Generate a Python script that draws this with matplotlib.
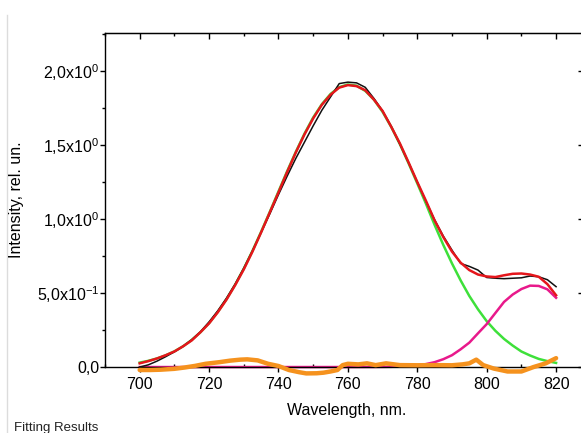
"""
Ajuste espectral: intensidade medida, duas componentes gaussianas, ajuste e resíduo.

Saída: out.png (581x433 px)
"""
import matplotlib
matplotlib.use("Agg")
import matplotlib.pyplot as plt
import matplotlib.ticker as ticker
from matplotlib.lines import Line2D

plt.rcParams["font.family"] = "Liberation Sans"
plt.rcParams["mathtext.fontset"] = "custom"
plt.rcParams["mathtext.rm"] = "Liberation Sans"
plt.rcParams["mathtext.it"] = "Liberation Sans:italic"

# ── cores ──────────────────────────────────────────────────────────────────────
COLOR_DATA  = "#111111"
COLOR_FIT   = "#e5161c"
COLOR_PEAK1 = "#3ee03a"
COLOR_PEAK2 = "#e8198b"
COLOR_RES   = "#f5921e"

# ── dados ──────────────────────────────────────────────────────────────────────
# grade comum de comprimento de onda (nm) para dados, ajuste e componentes
NM = [700, 702.5, 705, 707.5, 710, 712.5, 715, 717.5, 720, 722.5, 725,
      727.5, 730, 732.5, 735, 737.5, 740, 742.5, 745, 747.5, 750, 752.5,
      755, 757.5, 760, 762.5, 765, 767.5, 770, 772.5, 775, 777.5, 780,
      782.5, 785, 787.5, 790, 792.5, 795, 797.5, 800, 802.5, 805, 807.5,
      810, 812.5, 815, 817.5, 820]

FIT_TOTAL = [0.025, 0.04, 0.058, 0.08, 0.105, 0.14, 0.18, 0.235, 0.295, 0.37,
             0.455, 0.553, 0.66, 0.78, 0.91, 1.045, 1.18, 1.318, 1.45, 1.572,
             1.68, 1.772, 1.84, 1.888, 1.905, 1.898, 1.87, 1.807, 1.73, 1.623,
             1.51, 1.382, 1.25, 1.123, 0.99, 0.878, 0.78, 0.705, 0.655, 0.625,
             0.612, 0.608, 0.62, 0.63, 0.632, 0.625, 0.61, 0.56, 0.485]

PEAK1 = [0.03, 0.042, 0.058, 0.079, 0.106, 0.14, 0.183, 0.235, 0.297, 0.372,
         0.458, 0.556, 0.665, 0.785, 0.914, 1.048, 1.186, 1.323, 1.454, 1.577,
         1.686, 1.776, 1.845, 1.891, 1.909, 1.901, 1.866, 1.807, 1.724, 1.622,
         1.505, 1.376, 1.241, 1.103, 0.96, 0.825, 0.70, 0.585, 0.48, 0.39,
         0.31, 0.245, 0.19, 0.145, 0.105, 0.078, 0.055, 0.04, 0.028]

PEAK2 = [0.0, 0.0, 0.0, 0.0, 0.0, 0.0, 0.0, 0.0, 0.0, 0.0, 0.0, 0.0, 0.0,
         0.0, 0.0, 0.0, 0.0, 0.0, 0.0, 0.0, 0.0, 0.0, 0.0, 0.0, 0.0, 0.0,
         0.0003, 0.0004, 0.001, 0.0016, 0.004, 0.006, 0.011, 0.02, 0.033,
         0.053, 0.08, 0.12, 0.165, 0.228, 0.29, 0.365, 0.44, 0.49, 0.527,
         0.55, 0.548, 0.525, 0.468]

DATA_INT = [0.0, 0.015, 0.04, 0.07, 0.103, 0.14, 0.185, 0.238, 0.305, 0.38,
            0.465, 0.56, 0.668, 0.785, 0.91, 1.035, 1.165, 1.29, 1.41, 1.52,
            1.63, 1.735, 1.825, 1.915, 1.925, 1.92, 1.89, 1.815, 1.73, 1.625,
            1.505, 1.38, 1.25, 1.12, 0.995, 0.885, 0.79, 0.70, 0.68, 0.655,
            0.605, 0.60, 0.597, 0.60, 0.603, 0.615, 0.61, 0.59, 0.543]

RES_NM = [700, 703, 706, 710, 713, 716, 719, 723, 726, 729, 731, 734, 737,
          740, 743, 746, 748, 751, 753, 755, 757, 758.5, 760, 763, 765.5, 768,
          771, 775, 780, 785, 790, 793, 795, 797, 799, 802, 806, 810, 813.5,
          817, 820]
RES_INT = [-0.02, -0.02, -0.018, -0.012, -0.003, 0.008, 0.022, 0.033, 0.043,
           0.05, 0.052, 0.045, 0.022, 0.007, -0.02, -0.035, -0.043, -0.042,
           -0.038, -0.03, -0.02, 0.013, 0.022, 0.018, 0.025, 0.013, 0.025,
           0.013, 0.012, 0.013, 0.012, 0.018, 0.025, 0.05, 0.013, -0.01, -0.03,
           -0.03, 0.0, 0.025, 0.06]

X_TICKS = [700, 720, 740, 760, 780, 800, 820]
Y_TICKS = [0.0, 0.5, 1.0, 1.5, 2.0]
Y_TICK_LABELS = ["0,0", r"5,0x10$^{-1}$", r"1,0x10$^{0}$", r"1,5x10$^{0}$",
                 r"2,0x10$^{0}$"]

X_LIM = (690, 828)
Y_LIM = (-0.07, 2.257)


def plot_fit(out_path: str = "out.png") -> None:
    fig = plt.figure(figsize=(5.81, 4.33), dpi=100)
    ax = fig.add_axes([0.1807, 0.1284, 0.8242, 0.7954])

    ax.plot(NM, PEAK1, color=COLOR_PEAK1, lw=1.8, zorder=2)
    ax.plot(NM, PEAK2, color=COLOR_PEAK2, lw=1.8, zorder=2)
    ax.plot(NM, DATA_INT, color=COLOR_DATA, lw=1.1, zorder=3)
    ax.plot(NM, FIT_TOTAL, color=COLOR_FIT, lw=1.8, zorder=4)
    ax.plot(RES_NM, RES_INT, color=COLOR_RES, lw=3.2, zorder=5,
            solid_capstyle="round")

    ax.set_xlim(*X_LIM)
    ax.set_ylim(*Y_LIM)

    # eixo x no zero, eixo y só de 0 até o topo
    ax.spines["bottom"].set_position(("data", 0))
    ax.spines["left"].set_bounds(0, Y_LIM[1])
    for sp in ax.spines.values():
        sp.set_linewidth(1.0)

    ax.xaxis.set_major_locator(ticker.FixedLocator(X_TICKS))
    ax.xaxis.set_minor_locator(ticker.MultipleLocator(10))
    ax.yaxis.set_major_locator(ticker.FixedLocator(Y_TICKS))
    ax.yaxis.set_major_formatter(ticker.FixedFormatter(Y_TICK_LABELS))
    ax.yaxis.set_minor_locator(ticker.MultipleLocator(0.25))

    ax.tick_params(axis="x", which="major", direction="out", length=3.5,
                   width=1, pad=3.5, labelsize=11.5)
    ax.tick_params(axis="x", which="minor", direction="in", length=2.5, width=1)
    ax.tick_params(axis="y", which="major", direction="out", length=3.5,
                   width=1, pad=0.5, labelsize=11.5)
    ax.tick_params(axis="y", which="minor", direction="out", length=2.2, width=1)

    # ticks internos no topo e à direita
    top = ax.secondary_xaxis("top")
    top.xaxis.set_major_locator(ticker.FixedLocator(X_TICKS))
    top.xaxis.set_minor_locator(ticker.MultipleLocator(10))
    top.tick_params(which="major", direction="in", length=4, width=1,
                    labeltop=False)
    top.tick_params(which="minor", direction="in", length=2.5, width=1)
    right = ax.secondary_yaxis("right")
    right.yaxis.set_major_locator(ticker.FixedLocator(Y_TICKS))
    right.yaxis.set_minor_locator(ticker.MultipleLocator(0.25))
    right.tick_params(which="major", direction="in", length=4, width=1,
                      labelright=False)
    right.tick_params(which="minor", direction="in", length=2.5, width=1)

    fig.text(347 / 581, 1 - 411 / 433, "Wavelength, nm.", fontsize=11.5,
             ha="center", va="center")
    fig.text(17 / 581, 1 - 200 / 433, "Intensity, rel. un.", fontsize=11.5,
             rotation=90, ha="center", va="center")
    fig.text(14 / 581, 1 - 428 / 433, "Fitting Results", fontsize=9.5,
             ha="left", va="center", color="#222222")

    # borda cinza à esquerda (recorte da janela)
    fig.add_artist(Line2D([6.5 / 581, 6.5 / 581], [0, 1 - 15 / 433],
                          transform=fig.transFigure, color="#dcdcdc", lw=1.0))

    fig.savefig(out_path, dpi=100)
    plt.close(fig)


if __name__ == "__main__":
    plot_fit()
